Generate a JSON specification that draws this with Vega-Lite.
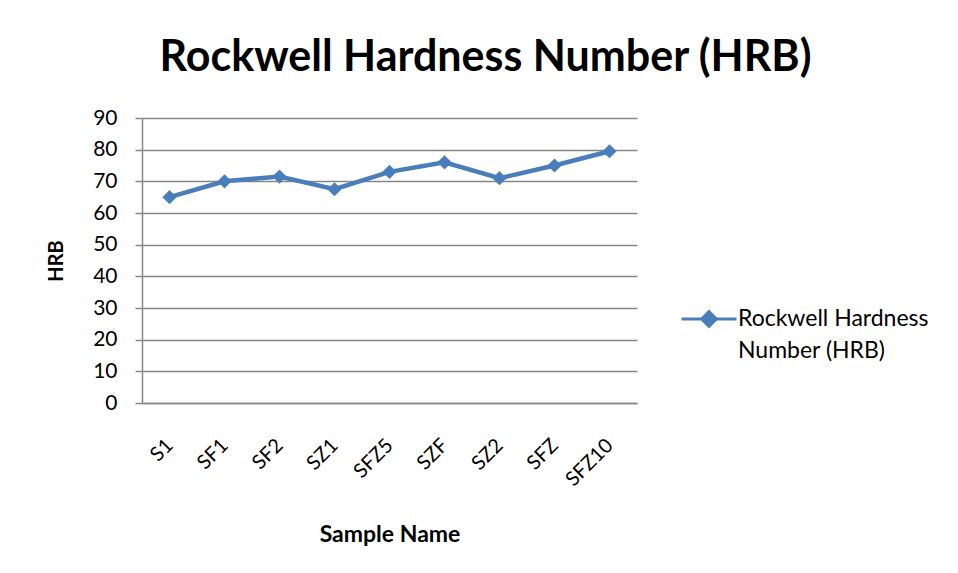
{
  "$schema": "https://vega.github.io/schema/vega-lite/v6.json",
  "autosize": "none",
  "width": 495,
  "height": 285,
  "padding": {"left": 142, "top": 118, "right": 321, "bottom": 170},
  "background": "white",
  "title": {
    "text": "Rockwell Hardness Number (HRB)",
    "font": "Lato",
    "fontSize": 43,
    "fontWeight": "bold",
    "color": "#000000",
    "anchor": "middle",
    "frame": "group",
    "dx": 96,
    "offset": 27
  },
  "data": {
    "values": [
      {"sample": "S1", "hrb": 65, "series": "Rockwell Hardness Number (HRB)"},
      {"sample": "SF1", "hrb": 70, "series": "Rockwell Hardness Number (HRB)"},
      {"sample": "SF2", "hrb": 71.5, "series": "Rockwell Hardness Number (HRB)"},
      {"sample": "SZ1", "hrb": 67.5, "series": "Rockwell Hardness Number (HRB)"},
      {"sample": "SFZ5", "hrb": 73, "series": "Rockwell Hardness Number (HRB)"},
      {"sample": "SZF", "hrb": 76, "series": "Rockwell Hardness Number (HRB)"},
      {"sample": "SZ2", "hrb": 71, "series": "Rockwell Hardness Number (HRB)"},
      {"sample": "SFZ", "hrb": 75, "series": "Rockwell Hardness Number (HRB)"},
      {"sample": "SFZ10", "hrb": 79.5, "series": "Rockwell Hardness Number (HRB)"}
    ]
  },
  "encoding": {
    "x": {
      "field": "sample",
      "type": "nominal",
      "sort": null,
      "scale": {"type": "point", "padding": 0.5},
      "axis": {
        "title": "Sample Name",
        "titleFont": "Lato",
        "titleFontSize": 23,
        "titleFontWeight": "bold",
        "titleColor": "#000000",
        "titlePadding": 34,
        "labelAngle": -45,
        "labelAlign": "right",
        "labelBaseline": "middle",
        "labelFont": "Lato",
        "labelFontSize": 20,
        "labelColor": "#000000",
        "labelPadding": 39,
        "labelDx": 3,
        "ticks": false,
        "domainColor": "#868686",
        "domainWidth": 1.5,
        "grid": false
      }
    },
    "y": {
      "field": "hrb",
      "type": "quantitative",
      "scale": {"domain": [0, 90], "nice": false},
      "axis": {
        "title": "HRB",
        "titleFont": "Lato",
        "titleFontSize": 20,
        "titleFontWeight": "bold",
        "titleColor": "#000000",
        "titlePadding": 26,
        "values": [0, 10, 20, 30, 40, 50, 60, 70, 80, 90],
        "labelFont": "Lato",
        "labelFontSize": 21,
        "labelColor": "#000000",
        "labelPadding": 18,
        "tickSize": 7,
        "tickColor": "#868686",
        "tickWidth": 1.5,
        "domainColor": "#868686",
        "domainWidth": 1.5,
        "grid": true,
        "gridColor": "#868686",
        "gridWidth": 1.5
      }
    },
    "color": {
      "field": "series",
      "type": "nominal",
      "scale": {"range": ["#4A7EBB"]},
      "legend": {
        "title": null,
        "orient": "none",
        "legendX": 538,
        "legendY": 172,
        "symbolType": "M-1,0L1,0M-0.27,0L0,-0.27L0.27,0L0,0.27Z",
        "symbolSize": 3025,
        "symbolStrokeWidth": 3,
        "symbolStrokeColor": "#4A7EBB",
        "symbolFillColor": "#4A7EBB",
        "labelFont": "Lato",
        "labelFontSize": 23,
        "labelColor": "#000000",
        "labelOffset": 0,
        "labelLimit": 300,
        "labelBaseline": "middle",
        "labelExpr": "['Rockwell Hardness', 'Number (HRB)']"
      }
    }
  },
  "layer": [
    {"mark": {"type": "line", "strokeWidth": 4.5}},
    {"mark": {"type": "point", "shape": "diamond", "filled": true, "size": 200, "opacity": 1}}
  ],
  "config": {"view": {"stroke": null}, "style": {"guide-label": {"lineHeight": 32}}}
}
